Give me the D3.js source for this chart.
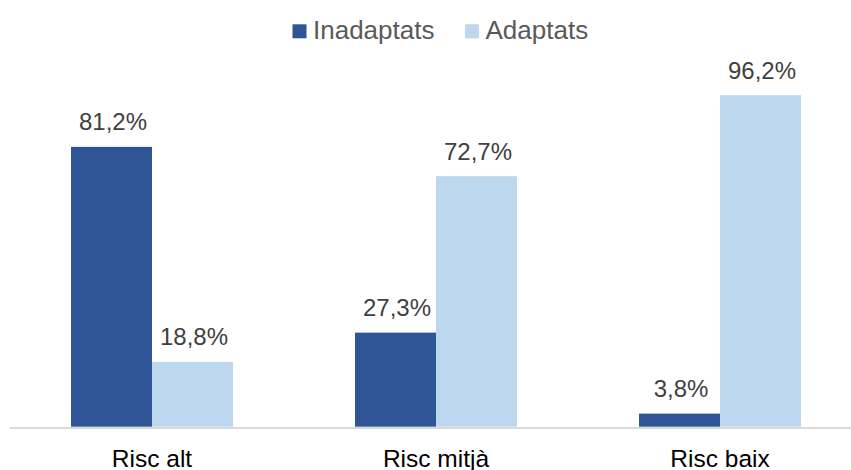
<!DOCTYPE html>
<html>
<head>
<meta charset="utf-8">
<script src="https://cdn.jsdelivr.net/npm/d3@7"></script>
<style>
  html, body { margin: 0; padding: 0; background: #fff; }
  svg { display: block; }
</style>
</head>
<body>
<svg id="chart" width="851" height="470"></svg>
<script>
const categories = ["Risc alt", "Risc mitjà", "Risc baix"];
const seriesNames = ["Inadaptats", "Adaptats"];
const inadaptats = [81.2, 27.3, 3.8];
const adaptats = [18.8, 72.7, 96.2];
const colors = ["#2F5597", "#BDD7EE"];

const data = categories.map((c, i) => ({ cat: c, values: [inadaptats[i], adaptats[i]] }));

const svg = d3.select("#chart");

const x0 = d3.scaleBand().domain(categories).range([10, 862]).paddingInner(0).paddingOuter(0);
const groupW = 162;
const x1 = d3.scaleBand().domain(seriesNames).range([0, groupW]).padding(0);
const y = d3.scaleLinear().domain([0, 100]).range([426.7, 82.1]);

const fmt = v => v.toFixed(1).replace(".", ",") + "%";

// bars
const g = svg.append("g");
const groups = g.selectAll("g.grp").data(data).join("g")
  .attr("class", "grp")
  .attr("transform", d => `translate(${x0(d.cat) + (x0.bandwidth() - groupW) / 2},0)`);

groups.selectAll("rect").data(d => d.values.map((v, k) => ({ k, v })))
  .join("rect")
  .attr("x", d => x1(seriesNames[d.k]))
  .attr("width", x1.bandwidth())
  .attr("y", d => y(d.v))
  .attr("height", d => y(0) - y(d.v))
  .attr("fill", d => colors[d.k]);

groups.selectAll("text.lbl").data(d => d.values.map((v, k) => ({ k, v })))
  .join("text")
  .attr("class", "lbl")
  .attr("x", d => x1(seriesNames[d.k]) + x1.bandwidth() / 2 + 1.5)
  .attr("y", d => y(d.v) - 16.5)
  .attr("text-anchor", "middle")
  .attr("font-family", "'Liberation Sans', Arial, sans-serif")
  .attr("font-size", 24)
  .attr("fill", "#404040")
  .text(d => fmt(d.v));

// axis
const axis = svg.append("g").attr("transform", `translate(0,${y(0) + 1.3})`)
  .call(d3.axisBottom(x0).tickSize(0).tickPadding(0));
axis.select(".domain").attr("stroke", "#D9D9D9").attr("stroke-width", 2)
  .attr("d", `M10,0H851`);
axis.selectAll(".tick text")
  .attr("dy", 0)
  .attr("y", 38.5)
  .attr("font-family", "'Liberation Sans', Arial, sans-serif")
  .attr("font-size", 24.5)
  .attr("fill", "#000");

// legend
const legendX = [292.5, 465];
const leg = svg.append("g");
seriesNames.forEach((s, i) => {
  leg.append("rect").attr("x", legendX[i]).attr("y", 24.3).attr("width", 14).attr("height", 14).attr("fill", colors[i]);
  leg.append("text").attr("x", legendX[i] + 20.5).attr("y", 38.5)
    .attr("font-family", "'Liberation Sans', Arial, sans-serif")
    .attr("font-size", 26)
    .attr("fill", "#595959")
    .text(s);
});
</script>
</body>
</html>
